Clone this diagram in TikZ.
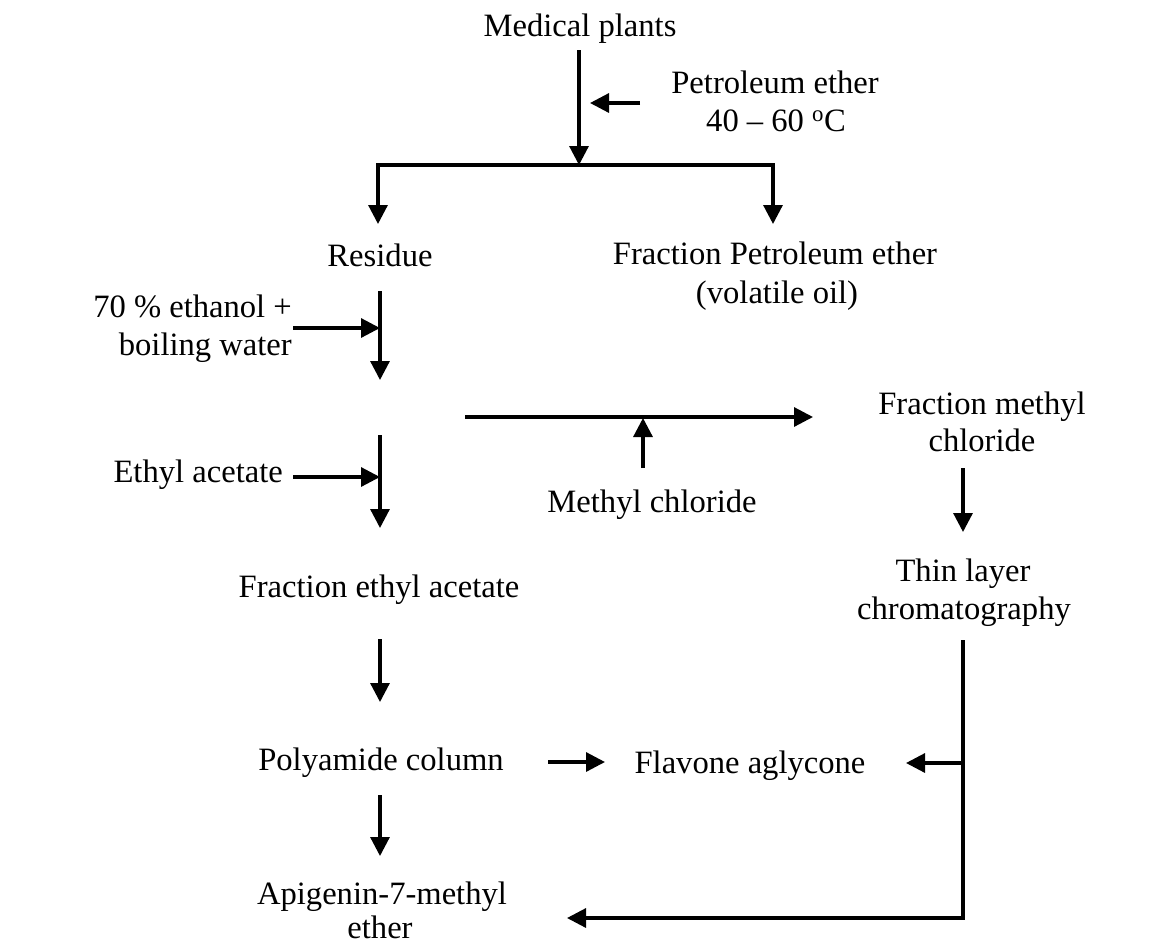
\documentclass[tikz,border=0pt]{standalone}
\usepackage{fontspec}
\setmainfont{Liberation Serif}
\usetikzlibrary{arrows.meta}
\begin{document}
\begin{tikzpicture}[x=1pt,y=-1pt,
  lbl/.style={anchor=base, inner sep=0pt, font=\fontsize{32.6}{38}\selectfont},
  lblr/.style={lbl, anchor=base east},
  ln/.style={line width=3.2pt, line join=miter},
  arr/.style={ln, -{Triangle[length=19pt,width=19pt]}}]
\useasboundingbox (0,0) rectangle (1165,946);
% texts
\node[lbl] (mp) at (580,36) {Medical plants};
\node[lbl] (pe1) at (775,93) {Petroleum ether};
\node[lbl] (pe2) at (776,131) {40 -- 60 \textsuperscript{o}C};
\node[lbl] (res) at (380,266) {Residue};
\node[lbl] (fpe1) at (775,264) {Fraction Petroleum ether};
\node[lbl] (fpe2) at (777,303) {(volatile oil)};
\node[lblr] (eth1) at (292,317) {70 \% ethanol +};
\node[lblr] (eth2) at (292,355) {boiling water};
\node[lblr] (ea) at (283,482) {Ethyl acetate};
\node[lbl] (mc) at (652,512) {Methyl chloride};
\node[lbl] (fmc1) at (982,414) {Fraction methyl};
\node[lbl] (fmc2) at (982,451) {chloride};
\node[lbl] (tlc1) at (963,581) {Thin layer};
\node[lbl] (tlc2) at (964,619) {chromatography};
\node[lbl] (fea) at (379,597) {Fraction ethyl acetate};
\node[lbl] (pc) at (381,770) {Polyamide column};
\node[lbl] (fa) at (750,773) {Flavone aglycone};
\node[lbl] (api1) at (382,904) {Apigenin-7-methyl};
\node[lbl] (api2) at (380,938) {ether};
% coordinates
\coordinate (mpS) at (579,50);
\coordinate (jn) at (579,165);
\coordinate (peS) at (640,103);
\coordinate (peE) at (590,103);
\coordinate (resT) at (378,224);
\coordinate (fpeT) at (773,224);
\coordinate (resS) at (380,291);
\coordinate (resE) at (380,380);
\coordinate (ethS) at (293,328);
\coordinate (ethE) at (380,328);
\coordinate (eaT) at (380,435);
\coordinate (eaB) at (380,528);
\coordinate (eaS) at (293,477);
\coordinate (eaE) at (380,477);
\coordinate (hS) at (465,417);
\coordinate (hE) at (813,417);
\coordinate (mcS) at (643,468);
\coordinate (mcE) at (643,418);
\coordinate (fmcS) at (963,468);
\coordinate (fmcE) at (963,532);
\coordinate (feaS) at (380,639);
\coordinate (feaE) at (380,702);
\coordinate (pcR) at (548,762);
\coordinate (faL) at (605,762);
\coordinate (tlcS) at (963,640);
\coordinate (tlcM) at (963,763);
\coordinate (faR) at (906,763);
\coordinate (apiR) at (567,918);
\coordinate (pcS) at (380,795);
\coordinate (pcE) at (380,856);
% connectors
\draw[arr] (mpS) -- (jn);
\draw[arr] (peS) -- (peE);
\draw[arr] (jn) -| (resT);
\draw[arr] (jn) -| (fpeT);
\draw[arr] (resS) -- (resE);
\draw[arr] (ethS) -- (ethE);
\draw[arr] (eaT) -- (eaB);
\draw[arr] (eaS) -- (eaE);
\draw[arr] (hS) -- (hE);
\draw[arr] (mcS) -- (mcE);
\draw[arr] (fmcS) -- (fmcE);
\draw[arr] (feaS) -- (feaE);
\draw[arr] (pcR) -- (faL);
\draw[arr] (tlcS) |- (apiR);
\draw[arr] (tlcM) -- (faR);
\draw[arr] (pcS) -- (pcE);
\end{tikzpicture}
\end{document}
